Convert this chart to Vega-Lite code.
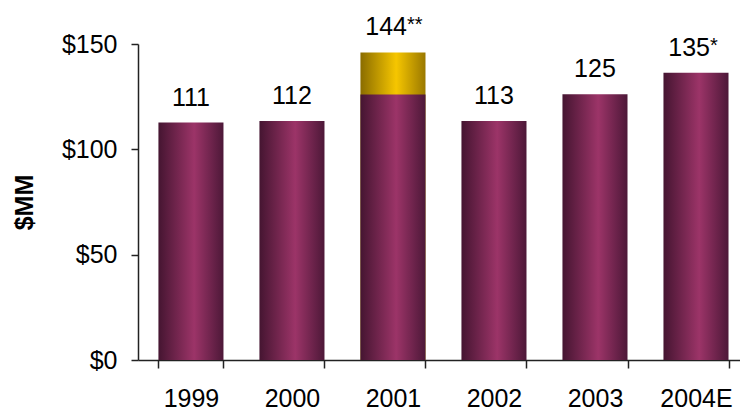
{
  "$schema": "https://vega.github.io/schema/vega-lite/v6.json",
  "autosize": "none",
  "width": 602,
  "height": 316,
  "padding": {"left": 138, "top": 44, "right": 0, "bottom": 54},
  "background": "white",
  "config": {
    "view": {"stroke": null},
    "font": "Liberation Sans",
    "axis": {"grid": false, "domainColor": "#222", "tickColor": "#222", "labelColor": "#000", "labelFont": "Liberation Sans", "titleFont": "Liberation Sans"}
  },
  "data": {
    "values": [
      {"year": "1999", "base": 112.7, "total": 112.7, "label": "111", "note": ""},
      {"year": "2000", "base": 113.4, "total": 113.4, "label": "112", "note": ""},
      {"year": "2001", "base": 126.0, "total": 146.0, "label": "144", "note": "**"},
      {"year": "2002", "base": 113.4, "total": 113.4, "label": "113", "note": ""},
      {"year": "2003", "base": 126.1, "total": 126.1, "label": "125", "note": ""},
      {"year": "2004E", "base": 136.4, "total": 136.4, "label": "135", "note": "*"}
    ]
  },
  "encoding": {
    "x": {
      "field": "year", "type": "nominal",
      "scale": {"domain": ["1999", "2000", "2001", "2002", "2003", "2004E"], "paddingInner": 0.356, "paddingOuter": 0.158, "align": 0.64},
      "axis": {"title": null, "labelAngle": 0, "labelFontSize": 25, "labelPadding": 18, "tickSize": 8, "tickBand": "extent", "domainWidth": 1.5, "tickWidth": 1.5}
    },
    "y": {
      "field": "total", "type": "quantitative",
      "scale": {"domain": [0, 150], "nice": false, "zero": true},
      "axis": {"title": "$MM", "titleFontSize": 25, "titleFontWeight": "bold", "titlePadding": 24, "labelFontSize": 25, "labelPadding": 14, "tickSize": 7, "values": [0, 50, 100, 150], "format": "$.0f", "domainWidth": 1.5, "tickWidth": 1.5}
    }
  },
  "layer": [
    {
      "transform": [{"filter": "datum.total > datum.base"}],
      "mark": {"type": "bar", "color": {"gradient": "linear", "x1": 0, "y1": 0, "x2": 1, "y2": 0, "stops": [{"offset": 0, "color": "#8a6c00"}, {"offset": 0.55, "color": "#f6c600"}, {"offset": 1, "color": "#9a7800"}]}}
    },
    {
      "mark": {"type": "bar", "color": {"gradient": "linear", "x1": 0, "y1": 0, "x2": 1, "y2": 0, "stops": [{"offset": 0, "color": "#451531"}, {"offset": 0.55, "color": "#9c3468"}, {"offset": 1, "color": "#4d1838"}]}},
      "encoding": {"y": {"field": "base", "type": "quantitative"}}
    },
    {
      "transform": [{"filter": "datum.note == ''"}],
      "mark": {"type": "text", "fontSize": 25, "color": "#000", "baseline": "alphabetic", "dy": -17},
      "encoding": {"text": {"field": "label"}}
    },
    {
      "transform": [{"filter": "datum.note != ''"}],
      "mark": {"type": "text", "fontSize": 25, "color": "#000", "baseline": "alphabetic", "align": "right", "dx": 14, "dy": -17},
      "encoding": {"text": {"field": "label"}}
    },
    {
      "transform": [{"filter": "datum.note != ''"}],
      "mark": {"type": "text", "fontSize": 20, "color": "#000", "baseline": "alphabetic", "align": "left", "dx": 14, "dy": -21},
      "encoding": {"text": {"field": "note"}}
    }
  ]
}
